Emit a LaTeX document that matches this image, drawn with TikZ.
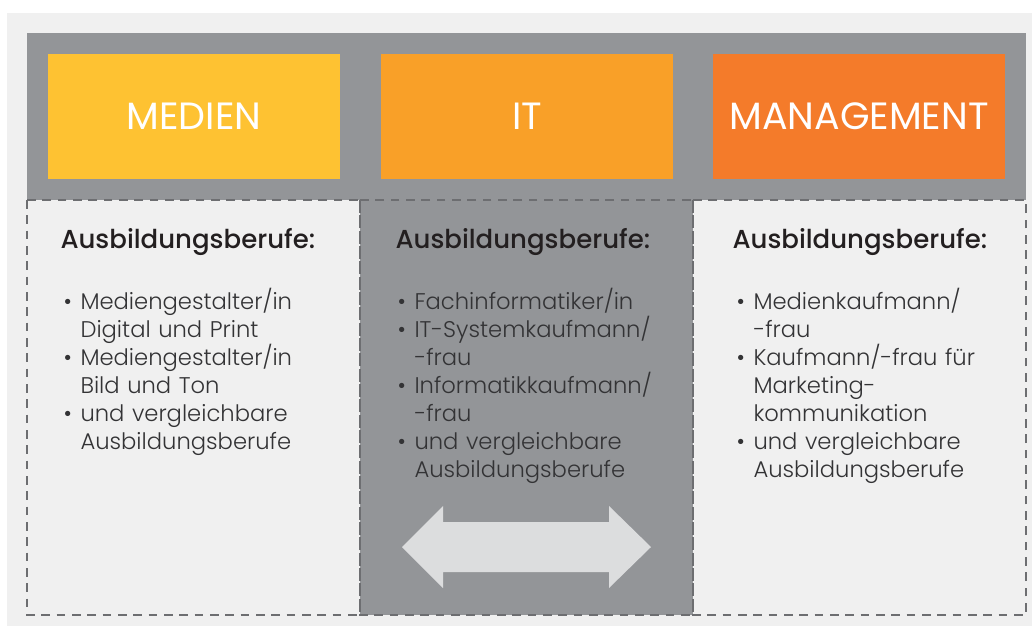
\documentclass[tikz,border=0pt]{standalone}
\usepackage{fontspec}
\setmainfont{Poppins}[UprightFont=* Light,BoldFont=* Medium]
\newfontfamily\titlefont{Poppins}
\usepackage{tikz}
\usetikzlibrary{calc}
\definecolor{panelgray}{HTML}{F0F0F0}
\definecolor{bandgray}{HTML}{939598}
\definecolor{dashgray}{HTML}{6D6E71}
\definecolor{arrowgray}{HTML}{DCDDDE}
\definecolor{medienyellow}{HTML}{FEC232}
\definecolor{itorange}{HTML}{F9A028}
\definecolor{mgmtorange}{HTML}{F47B2A}
\definecolor{textdark}{HTML}{231F20}
\definecolor{textbody}{HTML}{333335}
\tikzset{every picture/.style={line width=0.75pt}}
\tikzset{
  fieldbox/.style={minimum width=219pt,minimum height=93.75pt,inner sep=0pt,text=white,font=\titlefont\fontsize{28.5}{32}\selectfont},
  column/.style={draw=dashgray,line width=1pt,dash pattern=on 6.5pt off 5pt},
  headline/.style={anchor=base west,inner sep=0pt,text=textdark,font=\bfseries\fontsize{19.5}{24}\selectfont},
  joblist/.style={anchor=base west,inner sep=0pt,text=textbody,text width=200pt,align=left,font=\fontsize{17}{21}\selectfont}
}
\newcommand{\bul}{\makebox[12.75pt][l]{\textbullet}}
\newcommand{\ind}{\hspace*{12.75pt}}

\begin{document}
\begin{tikzpicture}[x=0.75pt,y=0.75pt,yscale=-1,xscale=1]
%set diagram to 1032 x 626
\useasboundingbox (0,0) rectangle (1032,626);

%Shape: Rectangle [background panel]
\fill [panelgray] (7,13) rectangle (1032,626);
%Shape: Rectangle [top band]
\fill [bandgray] (27,33) rectangle (1026,200);
%Shape: Rectangle [middle column]
\fill [bandgray] (360,200) rectangle (693,615);

%Dashed columns
\draw [column] (27,200) rectangle (360,615);
\draw [column] (360,200) rectangle (693,615);
\draw [column] (693,200) rectangle (1026,615);

%Field boxes
\node [fieldbox,fill=medienyellow] (medien) at (194,116.5) {MEDIEN};
\node [fieldbox,fill=itorange] (it) at (527,116.5) {IT};
\node [fieldbox,fill=mgmtorange] (mgmt) at (859,116.5) {MANAGEMENT};

%Shape: Double Arrow
\fill [arrowgray] (402,547) -- (443,506) -- (443,522) -- (609,522) -- (609,506) -- (651,547) -- (609,588) -- (609,572) -- (443,572) -- (443,588) -- cycle;

% Text Node
\node [headline] (medienhead) at (60,248) {Ausbildungsberufe:};
\node [headline] (ithead) at (395,248) {Ausbildungsberufe:};
\node [headline] (mgmthead) at (732,248) {Ausbildungsberufe:};

% Text Node
\node [joblist] (medienjobs) at (63,309) {\bul Mediengestalter/in\\ \ind Digital und Print\\ \bul Mediengestalter/in\\ \ind Bild und Ton\\ \bul und vergleichbare\\ \ind Ausbildungsberufe};
% Text Node
\node [joblist] (itjobs) at (397,309) {\bul Fachinformatiker/in\\ \bul IT-Systemkaufmann/\\ \ind -frau\\ \bul Informatikkaufmann/\\ \ind -frau\\ \bul und vergleichbare\\ \ind Ausbildungsberufe};
% Text Node
\node [joblist] (mgmtjobs) at (736,309) {\bul Medienkaufmann/\\ \ind -frau\\ \bul Kaufmann/-frau für\\ \ind Marketing-\\ \ind kommunikation\\ \bul und vergleichbare\\ \ind Ausbildungsberufe};

\end{tikzpicture}
\end{document}
